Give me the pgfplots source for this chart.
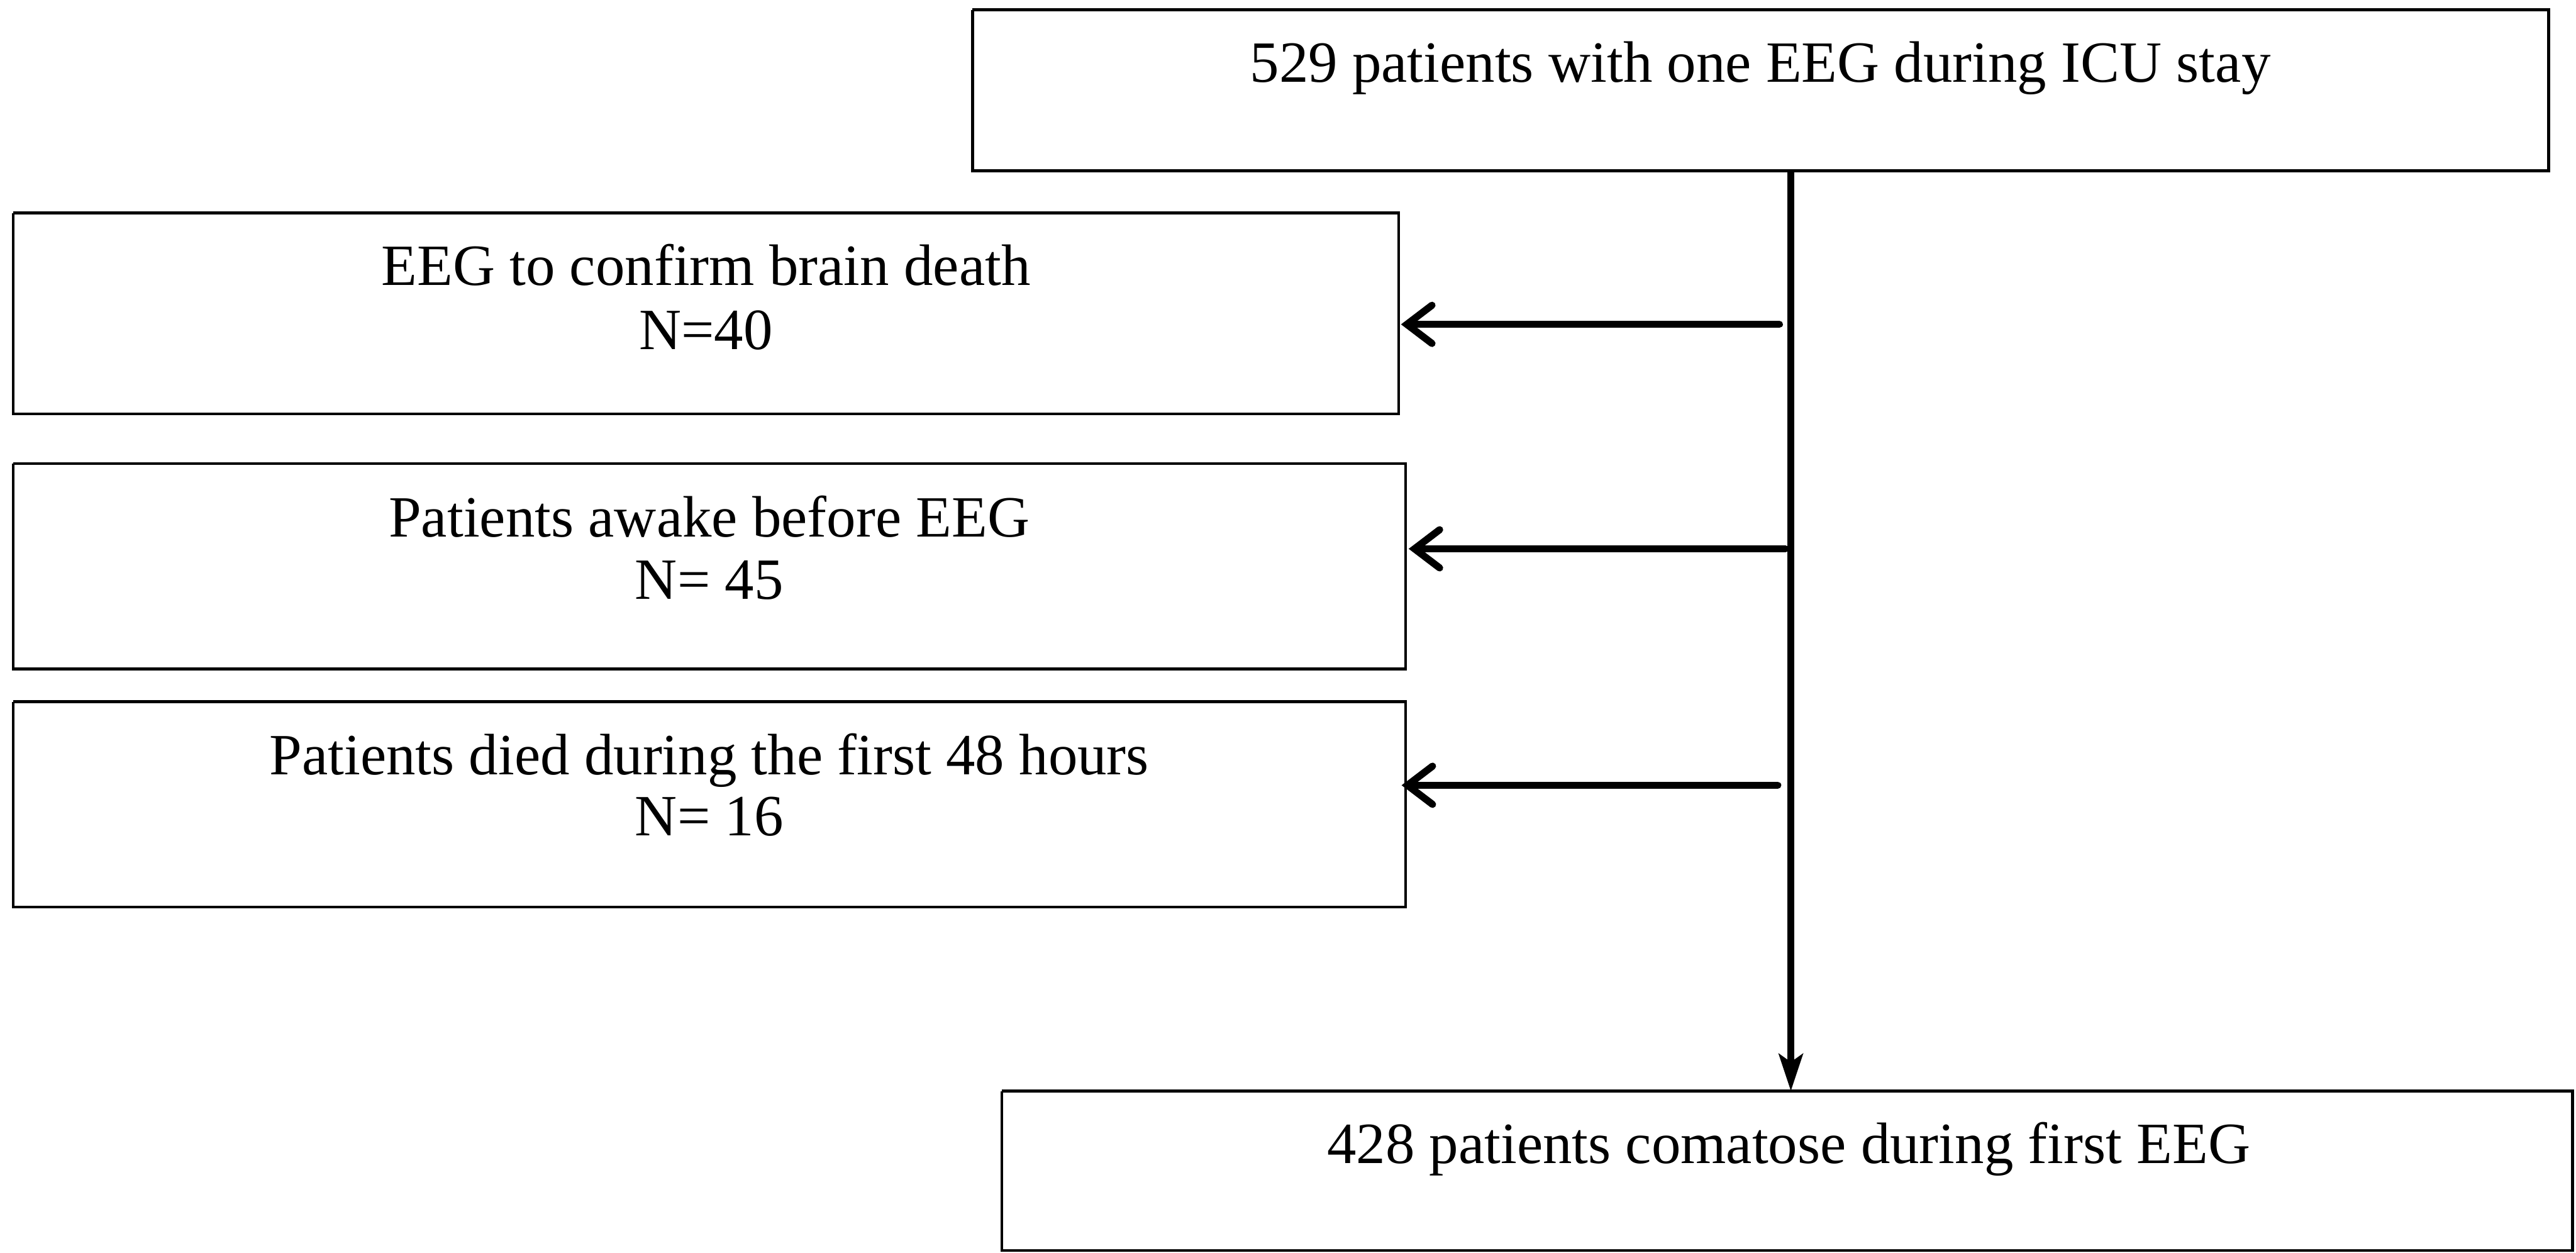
\documentclass[border=0pt]{standalone}
\usepackage{pgfplots}
\pgfplotsset{compat=1.18}
\usepackage{fontspec}
\setmainfont{Liberation Serif}
\usetikzlibrary{arrows.meta}
\tikzset{lbl/.style={font=\fontsize{10.7}{12}\selectfont, anchor=base, inner sep=0pt}}
\begin{document}
\begin{tikzpicture}
\begin{axis}[
  width=471.8pt, height=229.4pt, scale only axis,
  xmin=0, xmax=4718, ymin=0, ymax=2294, y dir=reverse,
  axis lines=none, clip=false,
]
% full canvas (keeps the picture's size)
\addplot[draw=none, forget plot] coordinates {(0,0) (4718,2294)};
% boxes
\addplot[black, line width=0.55pt] coordinates {(1781,18) (4668,18) (4668,313) (1781,313) (1781,18)};
\addplot[black, line width=0.5pt] coordinates {(24,390) (2562,390) (2562,758) (24,758) (24,390)};
\addplot[black, line width=0.5pt] coordinates {(24,849) (2574,849) (2574,1225) (24,1225) (24,849)};
\addplot[black, line width=0.5pt] coordinates {(24,1285) (2574,1285) (2574,1661) (24,1661) (24,1285)};
\addplot[black, line width=0.55pt] coordinates {(1835,1998) (4712,1998) (4712,2290) (1835,2290) (1835,1998)};
% main vertical arrow
\addplot[black, line width=1.2pt, -{Stealth[length=6.8pt,width=4.4pt,inset=1.5pt]}] coordinates {(3280,313) (3280,1998)};
% side arrows
\addplot[black, line width=1.3pt, line cap=round, -{Straight Barb[length=4.6pt,width=7pt,line cap=round]}] coordinates {(3259,594) (2566,594)};
\addplot[black, line width=1.3pt, line cap=round, -{Straight Barb[length=4.6pt,width=7pt,line cap=round]}] coordinates {(3270,1005) (2580,1005)};
\addplot[black, line width=1.3pt, line cap=round, -{Straight Barb[length=4.6pt,width=7pt,line cap=round]}] coordinates {(3256,1438) (2567,1438)};
% texts
\node[lbl] at (axis cs:3224,150) {529 patients with one EEG during ICU stay};
\node[lbl] at (axis cs:1293,522) {EEG to confirm brain death};
\node[lbl] at (axis cs:1293,640) {N=40};
\node[lbl] at (axis cs:1299,983) {Patients awake before EEG};
\node[lbl] at (axis cs:1299,1097) {N= 45};
\node[lbl] at (axis cs:1299,1419) {Patients died during the first 48 hours};
\node[lbl] at (axis cs:1299,1530) {N= 16};
\node[lbl] at (axis cs:3276,2130) {428 patients comatose during first EEG};
\end{axis}
\end{tikzpicture}
\end{document}
